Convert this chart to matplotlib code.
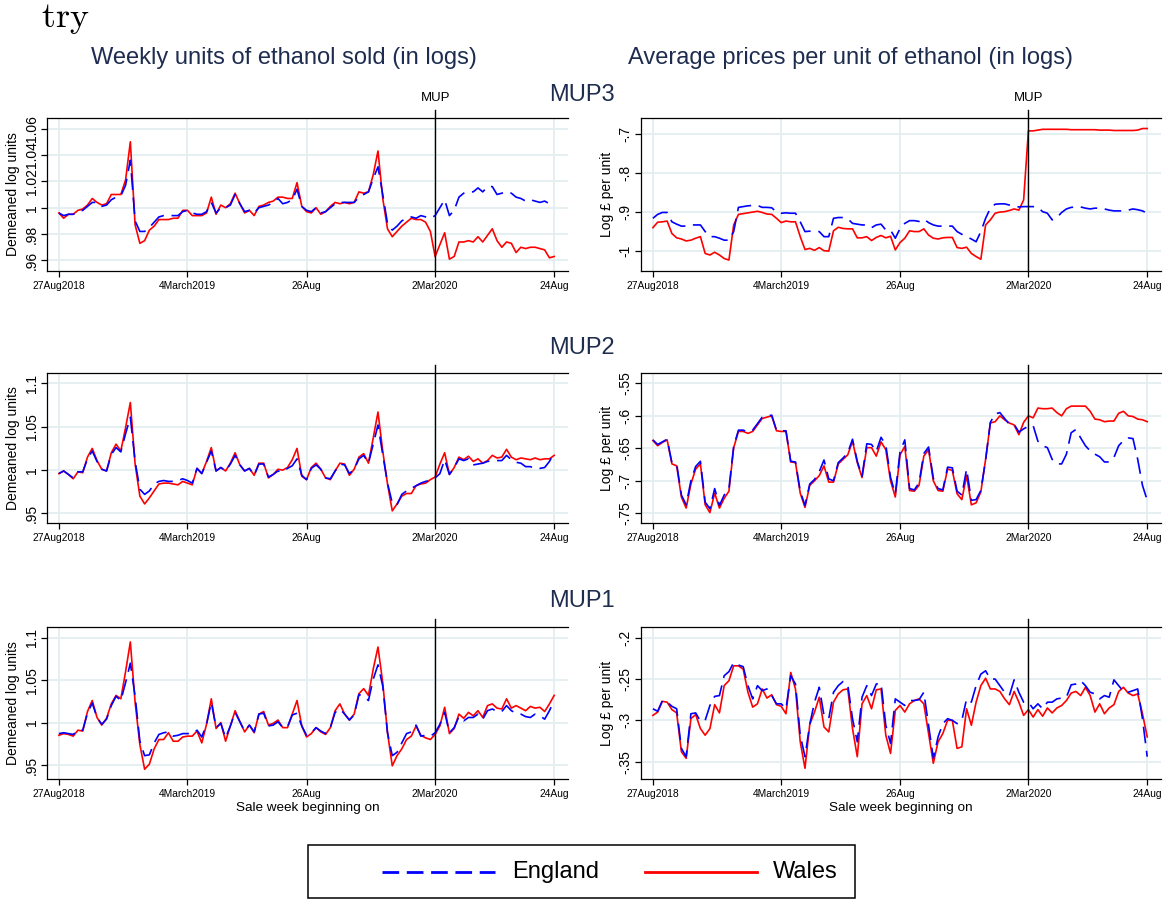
import numpy as np
import matplotlib
matplotlib.use("Agg")
import matplotlib.pyplot as plt
from matplotlib.lines import Line2D
from matplotlib.patches import Rectangle
from matplotlib.ticker import FuncFormatter

plt.rcParams['font.family'] = ['Liberation Sans', 'DejaVu Sans']
plt.rcParams['lines.scale_dashes'] = False

# ---------------- data (weekly, 27Aug2018 .. 24Aug2020) ----------------
tick_weeks = [0, 27, 52, 79, 104]
tick_labels = ['27Aug2018', '4March2019', '26Aug', '2Mar2020', '24Aug']
mup_week = 79

mup3_units_wales = [0.996, 0.992, 0.995, 0.995, 0.998, 0.999, 1.002, 1.007, 1.004, 1.002, 1.003, 1.010, 1.010, 1.010, 1.021,
    1.050,
    0.987, 0.973, 0.975, 0.983, 0.986, 0.991, 0.991, 0.991, 0.992, 0.992, 0.998, 0.998, 0.994, 0.994, 0.994, 0.996, 1.008,
    0.995, 1.002, 1.000, 1.003, 1.011, 1.003, 0.996, 0.998, 0.994, 1.001, 1.002, 1.004, 1.005, 1.008, 1.008, 1.007, 1.007,
    1.019,
    1.001, 0.997, 0.996, 1.000, 0.995, 0.997, 1.001, 1.004, 1.003, 1.004, 1.003, 1.004, 1.012, 1.011, 1.012, 1.025,
    1.043,
    1.007, 0.984, 0.978, 0.982, 0.986, 0.989, 0.992, 0.991, 0.991, 0.989, 0.982,
    0.963, 0.972, 0.981, 0.961, 0.963, 0.974, 0.974, 0.975, 0.974, 0.978, 0.974, 0.979, 0.984, 0.975, 0.970, 0.974, 0.973,
    0.966, 0.970, 0.969, 0.970, 0.970, 0.969, 0.968, 0.962, 0.963]
mup3_units_england = [0.996, 0.994, 0.995, 0.995, 0.997, 0.998, 1.001, 1.004, 1.004, 1.001, 1.002, 1.006, 1.008, 1.009, 1.017,
    1.036,
    0.990, 0.982, 0.982, 0.985, 0.989, 0.993, 0.994, 0.994, 0.994, 0.994, 0.997, 0.998, 0.996, 0.995, 0.995, 0.997, 1.004,
    0.996, 1.000, 1.000, 1.002, 1.010, 1.003, 0.997, 0.998, 0.996, 1.000, 1.001, 1.002, 1.004, 1.007, 1.003, 1.004, 1.006,
    1.014,
    1.001, 0.998, 0.997, 1.000, 0.996, 0.997, 1.000, 1.003, 1.004, 1.004, 1.004, 1.004, 1.008, 1.010, 1.012, 1.022,
    1.031,
    1.010, 0.988, 0.983, 0.986, 0.990, 0.992, 0.993, 0.992, 0.994, 0.993, 0.992,
    0.994, 1.000, 1.006, 0.994, 0.998, 1.008, 1.011, 1.012, 1.012, 1.015, 1.012, 1.016, 1.016, 1.010, 1.011, 1.012, 1.011,
    1.008, 1.007, 1.005, 1.006, 1.005, 1.004, 1.005, 1.003, 1.005]

mup3_price_wales = [-0.940, -0.926, -0.925, -0.923, -0.955, -0.966, -0.969, -0.974, -0.972, -0.967, -0.963, -1.006, -1.010,
    -1.003, -1.010, -1.019, -1.023,
    -0.933, -0.906, -0.904, -0.902, -0.900, -0.898, -0.901, -0.905, -0.906, -0.916, -0.927, -0.923, -0.925, -0.925,
    -0.963, -0.996, -0.993, -0.998, -0.991, -0.999, -1.000, -0.948, -0.939, -0.942, -0.943, -0.943, -0.966, -0.966, -0.963,
    -0.973, -0.965, -0.960, -0.966,
    -0.962, -0.997, -0.978, -0.967, -0.948, -0.950, -0.950, -0.943, -0.959, -0.967, -0.969, -0.966, -0.965, -0.965, -0.991,
    -0.993, -0.990, -1.006, -1.014, -1.021, -0.933, -0.920, -0.903, -0.900, -0.899, -0.896, -0.892, -0.895, -0.869,
    -0.692, -0.692, -0.690, -0.688, -0.688, -0.688, -0.688, -0.688, -0.688, -0.689, -0.689, -0.689, -0.689, -0.689, -0.689,
    -0.690, -0.690, -0.690, -0.691, -0.691, -0.691, -0.691, -0.691, -0.690, -0.686, -0.686]
mup3_price_england = [-0.916, -0.906, -0.901, -0.901, -0.925, -0.931, -0.936, -0.936, -0.933, -0.933, -0.933, -0.950, -0.963,
    -0.963, -0.967, -0.972, -0.972,
    -0.950, -0.888, -0.886, -0.884, -0.883, -0.883, -0.888, -0.888, -0.889, -0.900, -0.903, -0.902, -0.903, -0.903,
    -0.925, -0.950, -0.949, -0.950, -0.950, -0.963, -0.963, -0.916, -0.914, -0.914, -0.917, -0.929, -0.931, -0.933, -0.933,
    -0.940, -0.933, -0.931, -0.946,
    -0.946, -0.967, -0.942, -0.929, -0.922, -0.922, -0.924, -0.918, -0.927, -0.933, -0.936, -0.936, -0.936, -0.936, -0.950,
    -0.957, -0.963, -0.969, -0.976, -0.950, -0.916, -0.890, -0.880, -0.879, -0.879, -0.882, -0.884, -0.887, -0.886,
    -0.886, -0.886, -0.888, -0.899, -0.903, -0.920, -0.914, -0.901, -0.892, -0.888, -0.887, -0.887, -0.890, -0.892, -0.890,
    -0.890, -0.892, -0.895, -0.897, -0.897, -0.897, -0.895, -0.892, -0.894, -0.897, -0.903]

mup2_units_wales = [0.996, 0.999, 0.995, 0.990, 0.998, 0.997, 1.015, 1.025, 1.011, 1.001, 0.999, 1.020, 1.030, 1.022, 1.049,
    1.078,
    1.007, 0.970, 0.961, 0.968, 0.976, 0.984, 0.985, 0.985, 0.984, 0.983, 0.987, 0.985, 0.983, 1.002, 0.996, 1.010, 1.026,
    0.999, 1.003, 0.999, 1.008, 1.020, 1.006, 0.999, 1.002, 0.994, 1.008, 1.008, 0.991, 0.995, 1.001, 1.000, 1.003, 1.012,
    1.025,
    0.993, 0.989, 1.003, 1.008, 1.001, 0.991, 0.989, 0.999, 1.008, 1.007, 0.994, 1.001, 1.015, 1.019, 1.008, 1.037,
    1.067,
    1.022, 0.984, 0.953, 0.961, 0.970, 0.973, 0.973, 0.982, 0.984, 0.985, 0.989,
    0.992, 1.007, 1.020, 0.995, 1.003, 1.015, 1.012, 1.016, 1.010, 1.013, 1.008, 1.011, 1.017, 1.014, 1.015, 1.024, 1.015,
    1.012, 1.014, 1.013, 1.012, 1.014, 1.012, 1.013, 1.013, 1.017]
mup2_units_england = [0.996, 0.999, 0.995, 0.991, 0.998, 0.998, 1.013, 1.022, 1.010, 1.001, 0.999, 1.018, 1.026, 1.021, 1.042,
    1.061,
    1.010, 0.978, 0.972, 0.976, 0.984, 0.987, 0.988, 0.987, 0.987, 0.988, 0.990, 0.988, 0.985, 1.002, 0.996, 1.009, 1.022,
    0.999, 1.003, 0.999, 1.007, 1.017, 1.006, 0.999, 1.002, 0.994, 1.007, 1.007, 0.992, 0.995, 0.999, 0.998, 1.002, 1.005,
    1.013,
    0.994, 0.989, 1.002, 1.006, 1.001, 0.991, 0.990, 0.999, 1.007, 1.006, 0.996, 1.001, 1.013, 1.017, 1.008, 1.030,
    1.052,
    1.018, 0.985, 0.962, 0.960, 0.972, 0.976, 0.979, 0.982, 0.985, 0.987, 0.988,
    0.991, 0.996, 1.012, 0.995, 1.003, 1.013, 1.011, 1.013, 1.006, 1.007, 1.008, 1.010, 1.011, 1.011, 1.011, 1.017, 1.012,
    1.009, 1.008, 1.004, 1.004, 1.002, 1.002, 1.003, 1.010, 1.020]

mup2_price_wales = [-0.638, -0.646, -0.641, -0.637, -0.674, -0.677, -0.725, -0.742, -0.705, -0.682, -0.674, -0.737, -0.749,
    -0.719, -0.742, -0.727, -0.716,
    -0.649, -0.624, -0.624, -0.627, -0.624, -0.614, -0.604, -0.602, -0.600, -0.623, -0.624, -0.624, -0.671, -0.672,
    -0.719, -0.741, -0.707, -0.700, -0.692, -0.677, -0.702, -0.702, -0.674, -0.667, -0.660, -0.639, -0.672, -0.695, -0.649,
    -0.649, -0.662, -0.640, -0.652,
    -0.700, -0.725, -0.660, -0.647, -0.715, -0.716, -0.707, -0.662, -0.652, -0.700, -0.715, -0.716, -0.682, -0.684, -0.720,
    -0.729, -0.692, -0.737, -0.734, -0.717, -0.667, -0.611, -0.609, -0.600, -0.606, -0.611, -0.614, -0.629, -0.610,
    -0.600, -0.603, -0.588, -0.589, -0.589, -0.588, -0.595, -0.600, -0.589, -0.585, -0.585, -0.585, -0.585, -0.593, -0.605,
    -0.606, -0.609, -0.608, -0.608, -0.596, -0.593, -0.600, -0.601, -0.605, -0.606, -0.609]
mup2_price_england = [-0.637, -0.644, -0.640, -0.636, -0.672, -0.674, -0.722, -0.737, -0.700, -0.678, -0.670, -0.733, -0.743,
    -0.712, -0.738, -0.722, -0.712,
    -0.647, -0.622, -0.622, -0.625, -0.622, -0.612, -0.602, -0.600, -0.599, -0.622, -0.623, -0.623, -0.670, -0.671,
    -0.716, -0.738, -0.705, -0.698, -0.686, -0.668, -0.697, -0.700, -0.672, -0.665, -0.657, -0.636, -0.670, -0.693, -0.643,
    -0.644, -0.655, -0.633, -0.645,
    -0.695, -0.720, -0.655, -0.637, -0.712, -0.714, -0.703, -0.658, -0.648, -0.696, -0.712, -0.714, -0.679, -0.680, -0.716,
    -0.722, -0.682, -0.730, -0.729, -0.715, -0.668, -0.610, -0.597, -0.595, -0.604, -0.613, -0.613, -0.625, -0.620,
    -0.616, -0.615, -0.639, -0.646, -0.649, -0.667, -0.674, -0.674, -0.659, -0.626, -0.621, -0.634, -0.646, -0.654, -0.659,
    -0.663, -0.671, -0.671, -0.664, -0.646, -0.638, -0.634, -0.635, -0.667, -0.707, -0.730]

mup1_units_wales = [0.985, 0.987, 0.986, 0.984, 0.991, 0.990, 1.013, 1.026, 1.006, 0.997, 1.005, 1.022, 1.032, 1.028, 1.060,
    1.095,
    1.024, 0.974, 0.945, 0.951, 0.969, 0.980, 0.980, 0.988, 0.978, 0.978, 0.983, 0.984, 0.984, 0.990, 0.976, 0.998, 1.028,
    0.993, 1.000, 0.978, 0.996, 1.014, 1.001, 0.989, 0.997, 0.988, 1.010, 1.013, 0.997, 0.999, 1.003, 0.994, 0.994, 1.010,
    1.026,
    0.996, 0.983, 0.987, 0.994, 0.989, 0.986, 0.994, 1.014, 1.022, 1.010, 1.003, 1.010, 1.034, 1.040, 1.032, 1.063,
    1.089,
    1.047, 0.988, 0.949, 0.961, 0.969, 0.980, 0.984, 0.996, 0.985, 0.982, 0.980,
    0.986, 0.996, 1.018, 0.987, 0.993, 1.010, 1.005, 1.012, 1.008, 1.014, 1.006, 1.020, 1.022, 1.017, 1.016, 1.028, 1.017,
    1.020, 1.017, 1.014, 1.019, 1.017, 1.018, 1.013, 1.022, 1.032]
mup1_units_england = [0.987, 0.988, 0.987, 0.986, 0.991, 0.991, 1.011, 1.023, 1.006, 0.998, 1.004, 1.020, 1.031, 1.026, 1.047,
    1.070,
    1.031, 0.978, 0.961, 0.962, 0.976, 0.986, 0.988, 0.989, 0.984, 0.985, 0.987, 0.987, 0.987, 0.991, 0.983, 0.998, 1.024,
    0.994, 0.999, 0.982, 0.996, 1.012, 1.001, 0.990, 0.997, 0.989, 1.010, 1.011, 0.996, 0.997, 1.001, 0.994, 0.995, 1.009,
    1.011,
    0.996, 0.985, 0.988, 0.994, 0.990, 0.987, 0.994, 1.012, 1.016, 1.010, 1.003, 1.009, 1.033, 1.031, 1.026, 1.051,
    1.068,
    1.043, 0.988, 0.961, 0.965, 0.976, 0.987, 0.989, 0.997, 0.984, 0.985, 0.984,
    0.988, 0.998, 1.012, 0.988, 0.994, 1.007, 1.002, 1.006, 1.006, 1.010, 1.004, 1.014, 1.016, 1.013, 1.013, 1.020, 1.014,
    1.011, 1.010, 1.007, 1.006, 1.010, 1.008, 1.004, 1.014, 1.026]

mup1_price_wales = [-0.294, -0.290, -0.277, -0.278, -0.287, -0.291, -0.338, -0.346, -0.298, -0.293, -0.310, -0.318, -0.310,
    -0.281, -0.291, -0.258, -0.252,
    -0.234, -0.234, -0.238, -0.266, -0.284, -0.280, -0.262, -0.273, -0.269, -0.281, -0.283, -0.292, -0.242, -0.262,
    -0.326, -0.358, -0.305, -0.290, -0.272, -0.308, -0.314, -0.278, -0.268, -0.263, -0.262, -0.310, -0.344, -0.280, -0.270,
    -0.286, -0.263, -0.262, -0.318,
    -0.340, -0.288, -0.282, -0.290, -0.280, -0.276, -0.274, -0.280, -0.316, -0.352, -0.326, -0.316, -0.300, -0.300, -0.334,
    -0.332, -0.286, -0.306, -0.278, -0.258, -0.249, -0.262, -0.262, -0.265, -0.274, -0.281, -0.265, -0.278, -0.294,
    -0.287, -0.296, -0.287, -0.295, -0.285, -0.291, -0.285, -0.282, -0.276, -0.267, -0.265, -0.270, -0.260, -0.270, -0.290,
    -0.280, -0.292, -0.285, -0.281, -0.265, -0.260, -0.267, -0.270, -0.268, -0.292, -0.320]
mup1_price_england = [-0.286, -0.289, -0.276, -0.278, -0.283, -0.286, -0.334, -0.344, -0.292, -0.291, -0.301, -0.300, -0.282,
    -0.271, -0.270, -0.246, -0.241,
    -0.230, -0.233, -0.235, -0.258, -0.274, -0.258, -0.264, -0.262, -0.270, -0.280, -0.280, -0.286, -0.246, -0.256,
    -0.318, -0.344, -0.305, -0.278, -0.260, -0.294, -0.298, -0.266, -0.258, -0.253, -0.257, -0.298, -0.326, -0.272, -0.258,
    -0.270, -0.256, -0.255, -0.306,
    -0.328, -0.274, -0.278, -0.282, -0.276, -0.276, -0.275, -0.266, -0.306, -0.346, -0.320, -0.304, -0.298, -0.300, -0.304,
    -0.300, -0.274, -0.278, -0.258, -0.244, -0.240, -0.250, -0.250, -0.258, -0.266, -0.270, -0.251, -0.266, -0.278,
    -0.278, -0.286, -0.280, -0.286, -0.278, -0.278, -0.274, -0.273, -0.272, -0.257, -0.256, -0.252, -0.258, -0.266, -0.268,
    -0.274, -0.270, -0.272, -0.251, -0.258, -0.265, -0.266, -0.264, -0.262, -0.298, -0.344]

row_titles = ['MUP3', 'MUP2', 'MUP1']
col_titles = ['Weekly units of ethanol sold (in logs)', 'Average prices per unit of ethanol (in logs)']
y_labels = ['Demeaned log units', 'Log \u00a3 per unit']
panels = [
    [(mup3_units_england, mup3_units_wales, [.96, .98, 1, 1.02, 1.04, 1.06], (0.952, 1.068)),
     (mup3_price_england, mup3_price_wales, [-1, -.9, -.8, -.7], (-1.051, -0.659))],
    [(mup2_units_england, mup2_units_wales, [.95, 1, 1.05, 1.1], (0.939, 1.112)),
     (mup2_price_england, mup2_price_wales, [-.75, -.7, -.65, -.6, -.55], (-0.765, -0.534))],
    [(mup1_units_england, mup1_units_wales, [.95, 1, 1.05, 1.1], (0.9335, 1.1126)),
     (mup1_price_england, mup1_price_wales, [-.35, -.3, -.25, -.2], (-0.371, -0.187))],
]

# ---------------- figure ----------------
W, H = 1168, 901
fig = plt.figure(figsize=(W / 100, H / 100), dpi=100)
fig.patch.set_facecolor('white')

navy = '#1e2d4f'
grid_c = '#e3edf0'
blue = '#0000ff'
red = '#ff0000'

col_x = [(47, 568), (641, 1161)]
row_y = [(118, 271), (373, 523), (627, 779)]


def fmt(v, pos):
    s = '%g' % v
    s = s.replace('-0.', '-.')
    if s.startswith('0.'):
        s = s[1:]
    return s


for r in range(3):
    for c in range(2):
        eng, wal, yt, ylim = panels[r][c]
        x0, x1 = col_x[c]
        yt0, yb0 = row_y[r]
        ax = fig.add_axes([x0 / W, 1 - yb0 / H, (x1 - x0) / W, (yb0 - yt0) / H])
        xe = np.arange(len(eng))
        xw = np.arange(len(wal))
        ax.plot(xw, wal, color=red, lw=1.2, zorder=3)
        ax.plot(xe, eng, color=blue, lw=1.2, dashes=(12, 5.5), zorder=4)
        ax.set_xlim(-2.5, 106.9)
        ax.set_ylim(*ylim)
        ax.set_xticks(tick_weeks)
        ax.set_xticklabels(tick_labels, fontsize=7.4)
        ax.set_yticks(yt)
        ax.yaxis.set_major_formatter(FuncFormatter(fmt))
        for lab in ax.get_yticklabels():
            lab.set_rotation(90)
            lab.set_va('center')
            lab.set_fontsize(10)
        ax.tick_params(axis='x', length=4.5, width=0.9, color='black', pad=3)
        ax.tick_params(axis='y', length=4, width=0.9, color='black', pad=2)
        ax.grid(True, color=grid_c, lw=1.3, zorder=0)
        ax.set_axisbelow(True)
        for side in ['left', 'top', 'bottom']:
            ax.spines[side].set_linewidth(0.9)
            ax.spines[side].set_color('black')
        ax.spines['right'].set_visible(False)
        ax.set_ylabel(y_labels[c], fontsize=10, labelpad=3)
        ax.axvline(mup_week, ymin=0, ymax=1.05, color='black', lw=1.0, clip_on=False, zorder=5)
        if r == 0:
            ax.text(mup_week, 1.09, 'MUP', transform=ax.get_xaxis_transform(), ha='center', va='bottom',
                    fontsize=9.5, color='black')
        if r == 2:
            ax.set_xlabel('Sale week beginning on', fontsize=9.7, labelpad=2)

# titles
fig.text(41 / W, 1 - 18 / H, r'$\mathrm{try}$', ha='left', va='center', fontsize=26, math_fontfamily='cm')
fig.text(284 / W, 1 - 58 / H, col_titles[0], ha='center', va='center', fontsize=17, color=navy)
fig.text(850 / W, 1 - 58 / H, col_titles[1], ha='center', va='center', fontsize=17, color=navy)
for r, t in enumerate(row_titles):
    fig.text(582 / W, 1 - (95 + 253 * r) / H, t, ha='center', va='center', fontsize=17, color=navy)

# legend box
fig.add_artist(Rectangle((308 / W, 1 - 898 / H), (855 - 308) / W, (898 - 845) / H, transform=fig.transFigure,
                         facecolor='white', edgecolor='black', lw=1.1))
ly = 1 - 872 / H
fig.add_artist(Line2D([382 / W, 495 / W], [ly, ly], transform=fig.transFigure, color=blue, lw=2.0, dashes=(12, 5.5)))
fig.add_artist(Line2D([645 / W, 757 / W], [ly, ly], transform=fig.transFigure, color=red, lw=2.0))
fig.text(512 / W, ly, 'England', ha='left', va='center', fontsize=17, color='black')
fig.text(773 / W, ly, 'Wales', ha='left', va='center', fontsize=17, color='black')

fig.savefig('out.png', dpi=100, facecolor='white')
